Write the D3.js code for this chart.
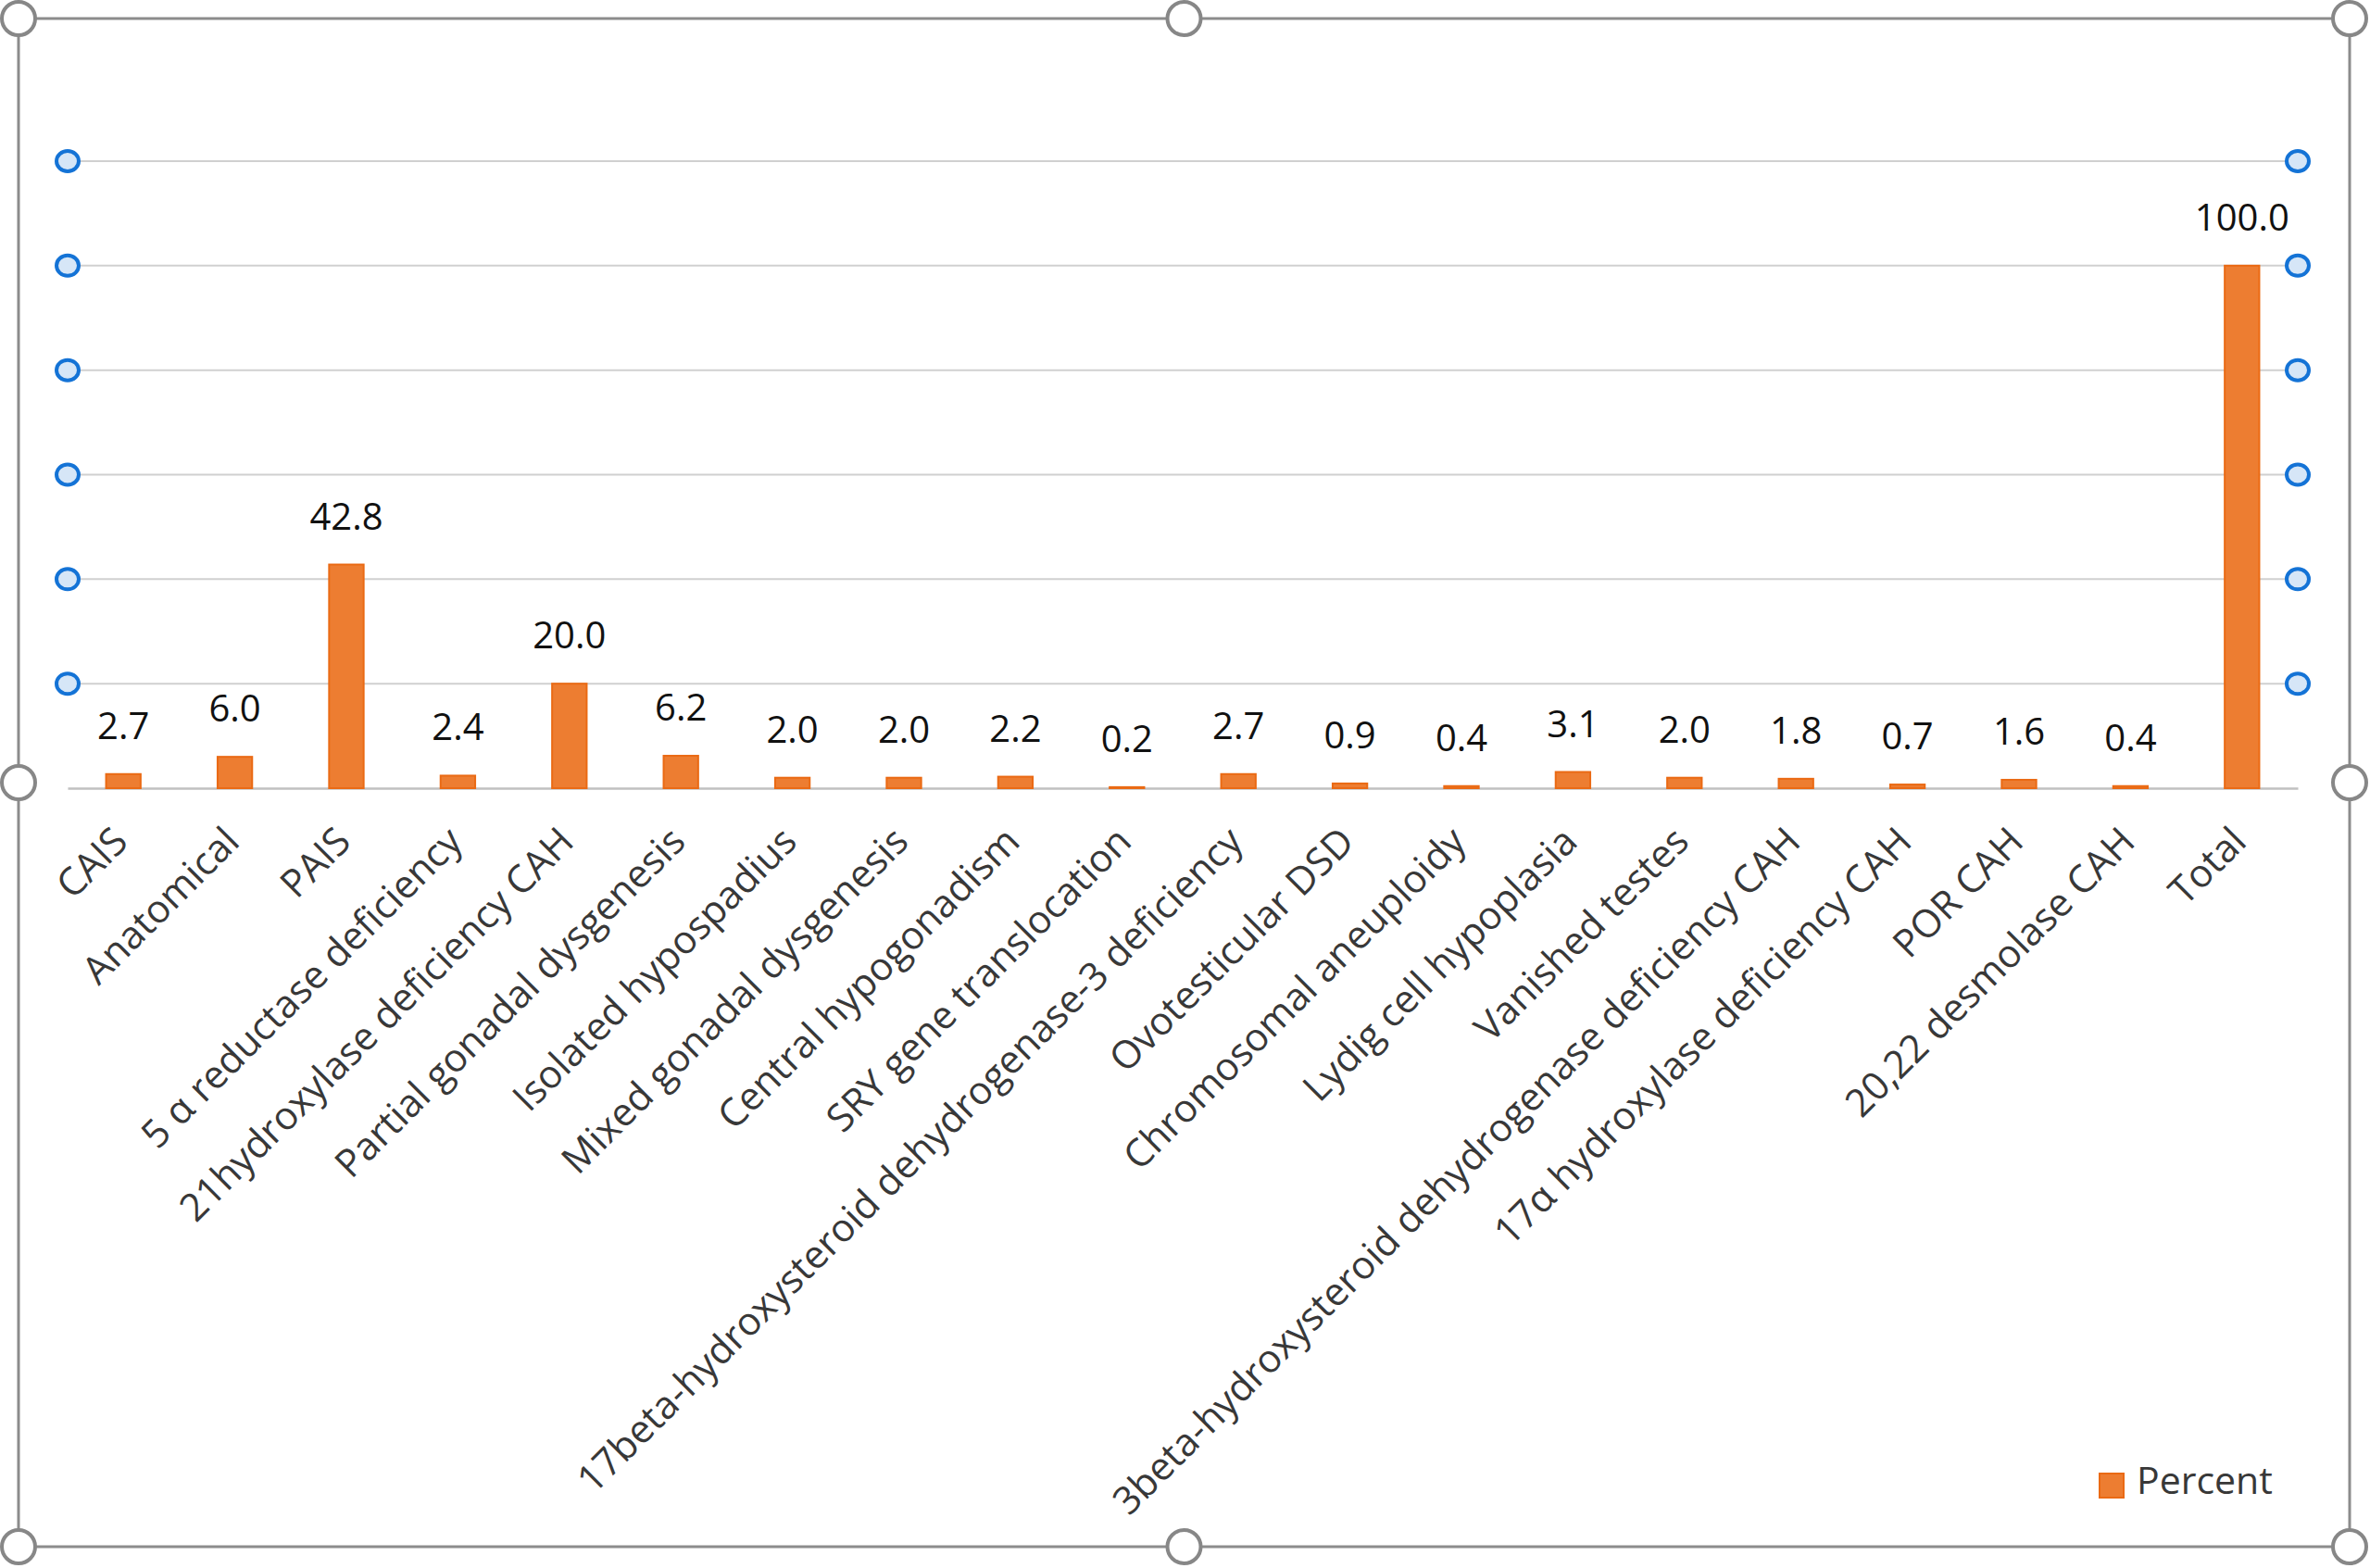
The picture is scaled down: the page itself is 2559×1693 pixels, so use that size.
<!DOCTYPE html>
<html>
<head>
<meta charset="utf-8">
<script src="https://cdnjs.cloudflare.com/ajax/libs/d3/7.8.5/d3.min.js"></script>
<style>
  html, body { margin: 0; padding: 0; background: #ffffff; }
  svg { display: block; }
  text { font-family: "Open Sans", "Segoe UI", "DejaVu Sans", sans-serif; }
</style>
</head>
<body>
<svg id="chart" width="2559" height="1693"></svg>
<script>
const categories = [
  "CAIS",
  "Anatomical",
  "PAIS",
  "5 α reductase deficiency",
  "21hydroxylase deficiency CAH",
  "Partial gonadal dysgenesis",
  "Isolated hypospadius",
  "Mixed gonadal dysgenesis",
  "Central hypogonadism",
  "SRY gene translocation",
  "17beta-hydroxysteroid dehydrogenase-3 deficiency",
  "Ovotesticular DSD",
  "Chromosomal aneuploidy",
  "Lydig cell hypoplasia",
  "Vanished testes",
  "3beta-hydroxysteroid dehydrogenase deficiency CAH",
  "17α hydroxylase deficiency CAH",
  "POR CAH",
  "20,22 desmolase CAH",
  "Total"
];
const percentValues = [2.7, 6.0, 42.8, 2.4, 20.0, 6.2, 2.0, 2.0, 2.2, 0.2, 2.7, 0.9, 0.4, 3.1, 2.0, 1.8, 0.7, 1.6, 0.4, 100.0];
const yTicks = [0, 20, 40, 60, 80, 100, 120];
const seriesName = "Percent";

const W = 2559, H = 1693;
const svg = d3.select("#chart");
svg.append("rect").attr("width", W).attr("height", H).attr("fill", "#ffffff");

const plot = { left: 73, right: 2481, top: 174, bottom: 851 };

const x = d3.scaleBand().domain(categories).range([plot.left, plot.right]).padding(0);
const y = d3.scaleLinear().domain([0, 120]).range([plot.bottom, plot.top]);
const barW = x.bandwidth() * 0.31;
const cx = c => x(c) + x.bandwidth() / 2;

const data = categories.map((c, i) => ({ c, v: percentValues[i] }));

// gridlines
svg.append("g").selectAll("line").data(yTicks.filter(t => t > 0)).join("line")
  .attr("x1", plot.left).attr("x2", plot.right)
  .attr("y1", d => y(d)).attr("y2", d => y(d))
  .attr("stroke", "#d0d0d0").attr("stroke-width", 2);

// baseline axis
const xAxis = d3.axisBottom(x).tickSize(0).tickFormat("");
const axG = svg.append("g").attr("transform", `translate(0,${y(0)})`).call(xAxis);
axG.select(".domain").attr("stroke", "#c0c0c0").attr("stroke-width", 2.5);

// bars
svg.append("g").selectAll("rect").data(data).join("rect")
  .attr("x", d => cx(d.c) - barW / 2)
  .attr("width", barW)
  .attr("y", d => y(d.v))
  .attr("height", d => y(0) - y(d.v))
  .attr("fill", "#ED7D31")
  .attr("stroke", "#EA6A14")
  .attr("stroke-width", 2);

// data labels
svg.append("g").selectAll("text").data(data).join("text")
  .attr("x", d => cx(d.c))
  .attr("y", d => y(d.v) - 38)
  .attr("text-anchor", "middle")
  .attr("font-size", 40)
  .attr("fill", "#111111")
  .text(d => d.v.toFixed(1));

// category labels
svg.append("g").selectAll("text").data(categories).join("text")
  .attr("transform", d => `translate(${cx(d) + 7},${y(0) + 60}) rotate(-45)`)
  .attr("text-anchor", "end")
  .attr("font-size", 41.7)
  .attr("fill", "#383838")
  .text(d => d);

// legend
const lg = svg.append("g").attr("transform", "translate(2267,1591)");
lg.append("rect").attr("width", 26).attr("height", 26)
  .attr("fill", "#ED7D31").attr("stroke", "#EA6A14").attr("stroke-width", 2);
lg.append("text").attr("x", 40).attr("y", 22).attr("font-size", 41)
  .attr("fill", "#383838").text(seriesName);

// selection handles on plot area (blue)
const handleYs = yTicks.filter(t => t > 0);
[plot.left, plot.right].forEach(hx => {
  svg.append("g").selectAll("ellipse").data(handleYs).join("ellipse")
    .attr("cx", hx).attr("cy", d => y(d))
    .attr("rx", 12).attr("ry", 11)
    .attr("fill", "#d6e6f7").attr("stroke", "#1473d6").attr("stroke-width", 4);
});

// outer frame with handles
const fr = { x0: 20, y0: 20, x1: 2537, y1: 1670 };
svg.append("rect").attr("x", fr.x0).attr("y", fr.y0)
  .attr("width", fr.x1 - fr.x0).attr("height", fr.y1 - fr.y0)
  .attr("fill", "none").attr("stroke", "#8c8c8c").attr("stroke-width", 3);
const mx = (fr.x0 + fr.x1) / 2, my = (fr.y0 + fr.y1) / 2;
const frameHandles = [
  [fr.x0, fr.y0], [mx, fr.y0], [fr.x1, fr.y0],
  [fr.x0, my], [fr.x1, my],
  [fr.x0, fr.y1], [mx, fr.y1], [fr.x1, fr.y1]
];
svg.append("g").selectAll("circle").data(frameHandles).join("circle")
  .attr("cx", d => d[0]).attr("cy", d => d[1]).attr("r", 18)
  .attr("fill", "#ffffff").attr("stroke", "#878787").attr("stroke-width", 4);
</script>
</body>
</html>
